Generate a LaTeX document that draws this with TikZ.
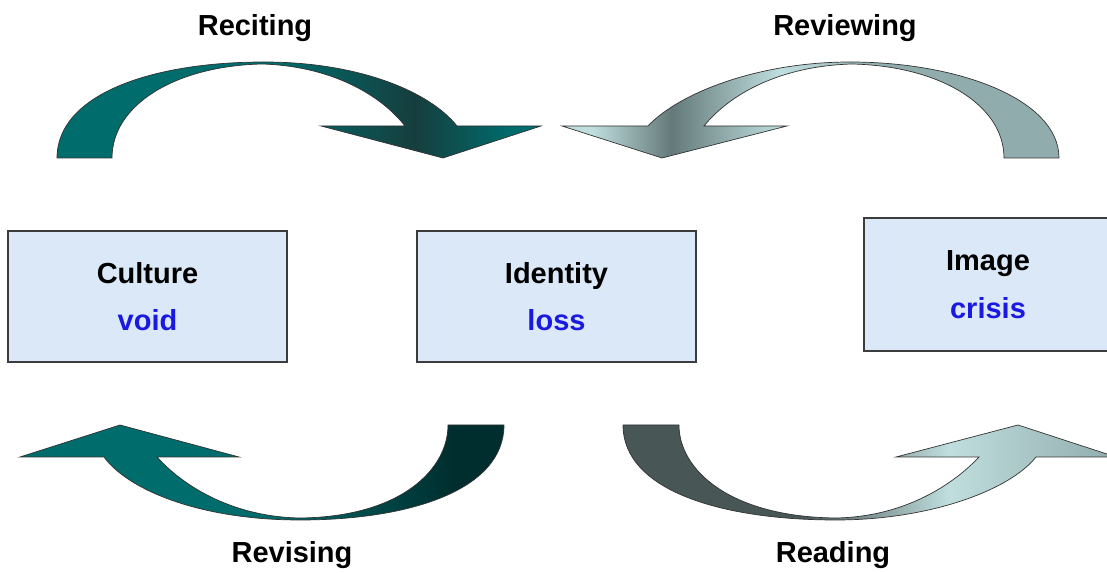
\documentclass[tikz,border=0pt]{standalone}
\usepackage{fontspec}
\setmainfont{Liberation Sans}
\definecolor{boxfill}{RGB}{218,232,247}
\definecolor{boxline}{RGB}{60,60,60}
\definecolor{wordblue}{RGB}{25,25,225}
\definecolor{tealA}{RGB}{0,108,108}
\definecolor{tealD}{RGB}{22,62,62}
\definecolor{tealDD}{RGB}{0,45,45}
\definecolor{greyA}{RGB}{145,172,172}
\definecolor{greyL}{RGB}{192,222,222}
\definecolor{greyD}{RGB}{100,122,122}
\definecolor{slate}{RGB}{72,86,86}
\pgfdeclarehorizontalshading{recite}{100bp}{color(0bp)=(tealA); color(48bp)=(tealA); color(62bp)=(tealD); color(72bp)=(tealA); color(100bp)=(tealA)}
\pgfdeclarehorizontalshading{review}{100bp}{color(0bp)=(greyL); color(28bp)=(greyL); color(36bp)=(greyD); color(47bp)=(greyL); color(58bp)=(greyA); color(100bp)=(greyA)}
\pgfdeclarehorizontalshading{revise}{100bp}{color(0bp)=(tealA); color(50bp)=(tealA); color(70bp)=(tealDD); color(100bp)=(tealDD)}
\pgfdeclarehorizontalshading{read}{100bp}{color(0bp)=(slate); color(43bp)=(slate); color(58bp)=(greyL); color(75bp)=(greyA); color(100bp)=(greyA)}
\tikzset{
  block/.style={draw=boxline, line width=0.7pt, fill=boxfill, minimum width=5.58cm,
    minimum height=2.62cm, align=center, font=\fontsize{16.5}{19.5}\selectfont\bfseries},
  caption/.style={font=\fontsize{16.5}{19.5}\selectfont\bfseries},
  bow/.style={draw=black!80, line width=0.4pt, shade}
}
\begin{document}
\begin{tikzpicture}[x=0.02cm, y=-0.02cm]
  \useasboundingbox (0,0) rectangle (1107,573);
  % boxes
  \node[block] (culture) at (147.5,296.5) {Culture\\[7.5pt]\textcolor{wordblue}{void}};
  \node[block] (identity) at (556.5,296.5) {Identity\\[7.5pt]\textcolor{wordblue}{loss}};
  \node[block, minimum width=4.96cm, minimum height=2.66cm] (image) at (988,284.5)
    {Image\\[7.5pt]\textcolor{wordblue}{crisis}};
  % captions
  \node[caption] (reciting) at (255,28) {Reciting};
  \node[caption] (reviewing) at (845,28) {Reviewing};
  \node[caption] (revising) at (292,555) {Revising};
  \node[caption] (reading) at (833,555) {Reading};
  % curved arrows
  \path[bow, shading=recite] (57,158) .. controls (57,95) and (150,62) .. (264,62)
    .. controls (360,62) and (430,92) .. (457,126) -- (541,126) -- (443,158) -- (321,126) -- (405,126)
    .. controls (380,94) and (330,66) .. (262,64)
    .. controls (175,66) and (112,105) .. (112,158) -- cycle;
  \path[bow, shading=review] (1059,158) .. controls (1059,100) and (960,62) .. (850,62)
    .. controls (760,62) and (680,92) .. (648,126) -- (562,126) -- (662,158) -- (787,126) -- (704,126)
    .. controls (730,94) and (780,66) .. (852,64)
    .. controls (940,66) and (1004,105) .. (1004,158) -- cycle;
  \path[bow, shading=revise] (504,425) .. controls (504,490) and (410,520) .. (300,520)
    .. controls (200,520) and (128,490) .. (104,457) -- (20,457) -- (120,425) -- (239,457) -- (157,457)
    .. controls (185,488) and (235,517) .. (300,518)
    .. controls (400,517) and (448,470) .. (448,425) -- cycle;
  \path[bow, shading=read] (623,425) .. controls (623,490) and (720,520) .. (836,520)
    .. controls (930,520) and (1010,490) .. (1036,457) -- (1116,457) -- (1018,425) -- (896,457) -- (979,457)
    .. controls (950,488) and (900,517) .. (836,518)
    .. controls (730,517) and (679,470) .. (679,425) -- cycle;
\end{tikzpicture}
\end{document}
